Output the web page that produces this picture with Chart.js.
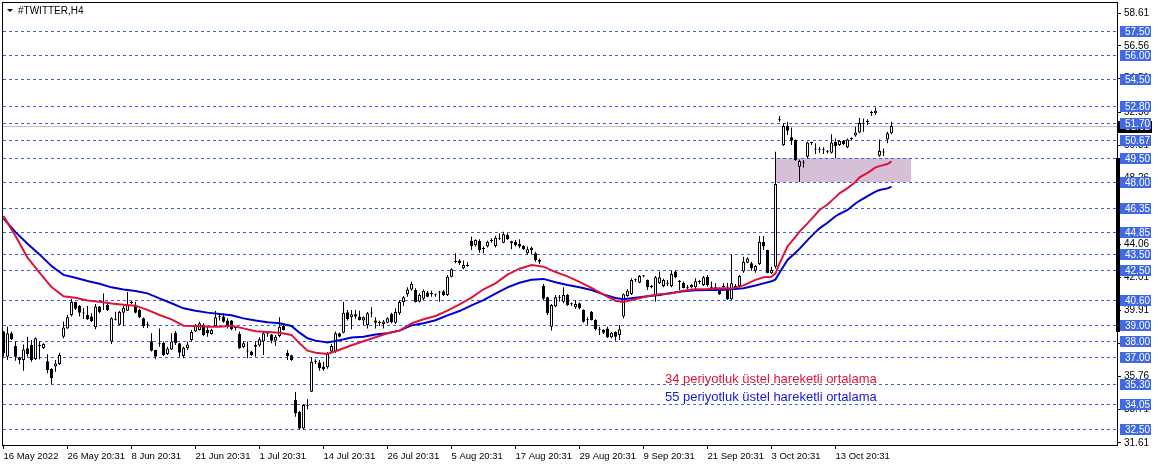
<!DOCTYPE html>
<html>
<head>
<meta charset="utf-8">
<script src="https://cdn.jsdelivr.net/npm/chart.js@4.4.0/dist/chart.umd.min.js"></script>
<style>
  html, body { margin: 0; padding: 0; background: #fff; overflow: hidden; }
  canvas { display: block; }
</style>
</head>
<body>
<canvas id="mt4" width="1158" height="466"></canvas>
<script>
// ---- #TWITTER H4 bars (one entry per bar) ----
const barOpen = [
  38.60,37.02,38.49,37.69,36.98,36.81,37.55,37.76,36.86,37.69,
  37.55,36.73,36.27,36.40,36.56,38.28,38.80,39.64,40.46,40.21,
  39.79,39.64,39.54,38.87,40.17,40.40,40.27,37.97,39.35,39.03,
  39.79,39.91,40.40,40.21,39.96,39.43,39.03,37.99,37.44,37.88,
  37.90,37.19,37.48,38.53,37.86,37.07,37.55,38.07,38.60,38.70,
  39.01,38.70,38.45,38.95,39.50,39.54,39.29,39.29,38.87,38.45,
  37.61,37.36,37.34,37.65,37.72,37.97,38.49,38.41,38.03,38.32,
  38.95,37.27,37.11,34.30,33.55,32.50,33.90,34.82,36.71,36.65,
  36.40,36.35,37.34,37.34,38.49,38.53,39.81,39.50,39.69,39.54,
  39.29,39.01,39.73,39.29,39.18,39.08,39.16,39.71,39.16,39.75,
  40.46,40.96,41.25,41.21,40.48,40.67,41.05,40.96,40.92,41.05,
  41.13,40.90,42.05,42.98,43.06,42.58,42.72,44.31,44.02,44.31,
  43.79,43.94,44.29,43.98,44.44,44.19,44.69,44.15,44.23,44.10,
  43.98,43.52,43.73,43.52,43.10,41.46,40.75,38.91,40.17,40.73,
  40.48,40.90,40.33,40.13,40.38,39.96,39.31,39.85,39.33,38.72,
  38.70,38.80,38.24,38.57,38.39,39.54,40.84,40.96,41.82,41.67,
  42.07,41.84,41.40,40.84,41.63,41.46,41.61,41.46,42.37,41.76,
  41.67,41.40,41.38,41.38,41.72,41.53,42.05,41.40,41.34,41.26,
  41.40,41.38,40.63,41.44,41.46,42.37,42.93,42.89,42.43,42.85,
  44.23,43.73,42.26,42.68,51.92,50.32,51.52,50.81,50.64,48.96,
  49.25,49.59,50.45,50.07,50.03,50.03,49.92,49.84,50.53,50.32,
  50.60,50.18,50.70,50.93,51.12,51.69,51.77,52.34,52.32,49.65,
  49.86,50.68,51.06
];
const barHigh = [
  38.62,38.91,38.60,37.97,37.02,37.78,38.28,38.07,38.22,37.97,
  37.86,37.17,36.29,36.81,37.27,39.24,39.64,40.67,40.48,40.27,
  40.06,40.21,39.75,40.33,40.21,41.00,40.48,39.50,39.85,39.91,
  40.21,41.09,40.52,40.48,40.04,39.48,39.22,38.49,37.46,38.80,
  37.97,37.65,38.49,38.64,37.90,37.65,37.97,38.70,39.08,39.22,
  39.12,38.91,38.78,39.89,39.64,39.75,39.43,39.33,38.95,38.60,
  37.97,37.97,37.40,37.97,38.24,38.60,38.60,38.45,38.39,39.50,
  39.01,37.44,37.15,34.80,33.63,34.05,34.34,36.98,36.86,36.81,
  36.71,37.32,37.82,38.60,38.53,40.46,39.96,39.96,39.96,39.91,
  39.54,39.83,40.13,39.50,39.29,39.33,39.50,39.79,40.06,40.58,
  40.84,41.38,41.74,41.32,41.00,41.25,41.17,41.17,41.00,41.17,
  41.21,42.16,42.58,43.52,43.14,43.06,42.98,44.57,44.40,44.40,
  43.94,44.31,44.46,44.61,44.78,44.88,44.78,44.31,44.36,44.40,
  44.04,43.94,43.94,43.62,43.20,41.59,40.79,40.33,40.90,40.90,
  41.38,40.96,40.42,40.58,40.42,40.00,39.50,39.89,39.37,38.91,
  38.74,38.91,38.57,38.60,39.01,41.00,41.26,41.95,41.93,42.16,
  42.16,41.88,41.53,42.09,42.37,41.93,41.84,42.43,42.43,41.84,
  41.74,41.53,41.59,41.95,41.84,42.09,42.16,41.74,41.63,41.38,
  41.63,41.67,43.41,41.59,42.16,43.31,43.27,42.99,42.79,44.61,
  44.61,43.75,42.68,49.90,52.15,51.69,51.79,51.43,50.68,49.42,
  49.38,50.53,50.53,50.43,50.22,50.18,50.01,51.01,50.74,50.64,
  50.64,50.74,50.81,51.48,52.02,52.00,51.94,52.48,52.69,50.68,
  50.11,51.16,51.79
];
const barLow = [
  37.02,36.81,38.07,36.77,36.54,36.14,37.02,36.71,36.81,36.86,
  37.51,35.98,35.31,36.08,36.50,38.16,38.78,39.54,39.96,39.54,
  39.39,39.33,39.20,38.74,39.75,39.96,39.89,37.82,39.29,38.99,
  38.95,39.89,40.33,39.75,39.43,38.83,38.83,37.34,36.86,37.65,
  37.07,37.13,37.44,37.76,37.02,36.92,37.44,37.99,38.57,38.66,
  38.34,38.28,38.41,38.91,39.29,39.16,38.80,38.70,38.66,37.51,
  37.55,36.92,37.07,37.02,37.65,37.13,38.28,37.86,37.69,38.24,
  38.66,36.81,36.77,33.25,32.45,32.45,33.71,34.80,36.56,36.14,
  36.14,36.27,37.27,37.27,38.24,38.49,39.29,38.74,39.41,39.29,
  39.01,38.80,39.50,38.80,38.95,38.80,39.12,39.12,39.08,39.64,
  40.21,40.79,41.17,40.42,40.42,40.58,40.75,40.79,40.79,40.48,
  40.84,40.84,42.01,42.89,42.79,42.51,42.68,43.73,43.94,43.56,
  43.52,43.89,44.19,43.89,44.36,44.15,44.36,43.77,43.94,43.83,
  43.73,43.41,43.48,42.99,42.85,40.58,39.64,38.66,40.13,40.48,
  40.38,40.21,40.21,40.04,40.00,39.16,39.01,39.29,38.66,38.39,
  38.45,38.20,38.18,38.03,38.07,39.43,40.79,40.90,41.72,41.63,
  42.01,41.21,41.32,40.48,41.59,41.38,41.46,41.38,41.95,41.21,
  41.32,41.26,41.30,41.26,41.59,41.46,41.42,41.32,41.21,40.90,
  41.21,40.58,40.58,41.30,41.38,42.30,42.89,42.43,42.30,42.79,
  43.73,42.26,42.22,42.57,51.79,50.26,50.95,50.32,49.34,48.02,
  48.92,49.49,50.32,49.76,49.84,49.76,49.80,49.80,49.49,50.26,
  50.32,50.13,50.64,50.85,51.06,51.16,51.58,52.15,52.23,49.59,
  49.63,50.43,51.01
];
const barClose = [
  37.23,38.49,38.11,37.02,36.81,37.48,37.19,36.81,38.18,37.72,
  37.82,36.19,35.66,36.60,37.13,38.85,39.50,40.48,40.04,39.79,
  39.73,39.37,39.27,40.17,39.83,40.44,39.96,39.43,39.39,39.83,
  40.10,40.27,40.44,39.79,39.50,38.95,38.99,37.40,37.02,37.84,
  37.13,37.53,37.97,37.86,37.27,37.59,37.78,38.57,38.95,39.12,
  38.39,38.49,38.70,39.50,39.54,39.22,38.91,38.74,38.83,37.55,
  37.86,37.34,37.13,37.76,38.11,38.49,38.47,38.03,38.28,38.91,
  38.70,37.07,36.81,33.46,32.50,33.99,33.96,36.71,36.75,36.29,
  36.23,37.23,37.69,38.49,38.28,39.79,39.39,39.69,39.54,39.33,
  39.50,39.75,39.77,39.16,39.14,39.24,39.43,39.20,39.83,40.46,
  40.75,41.25,41.59,40.46,40.90,41.17,40.79,40.98,40.94,41.07,
  40.90,42.05,42.51,43.01,42.89,42.79,42.74,43.98,44.36,43.73,
  43.83,44.25,44.33,44.50,44.48,44.71,44.40,44.27,44.02,43.94,
  43.77,43.77,43.87,43.10,42.99,40.67,39.75,40.27,40.75,40.77,
  40.90,40.27,40.31,40.33,40.06,39.22,39.35,39.33,38.74,38.68,
  38.53,38.24,38.53,38.28,38.74,40.94,41.17,41.84,41.86,42.09,
  42.09,41.38,41.44,42.01,42.01,41.84,41.65,42.22,42.01,41.72,
  41.34,41.36,41.53,41.76,41.74,42.01,41.53,41.36,41.32,40.96,
  41.44,40.63,41.63,41.40,42.09,42.99,43.20,42.58,42.72,44.25,
  43.94,42.28,42.47,47.87,51.96,51.52,51.22,50.60,49.38,49.32,
  49.21,50.49,50.47,50.05,50.05,49.99,49.90,50.49,50.26,50.60,
  50.39,50.68,50.72,51.12,51.71,51.67,51.79,52.36,52.48,49.95,
  49.88,51.06,51.52
];

// ---- moving averages, read at these bar numbers ----
const maBars = [
  0,3,6,9,12,15,18,21,24,27, 30,33,36,39,42,45,48,51,54,57,
  60,63,66,69,72,74,76,78,81,84, 87,90,93,96,99,102,105,108,111,114,
  117,120,123,126,129,132,135,138,141,144, 147,150,153,155,158,161,164,167,170,173,
  176,179,182,185,188,190,192,193,194,196, 198,199,201,203,204,206,208,209,211,213,
  214,216,218,219,221,222
];
const ema34 = [
  45.86,44.60,43.25,42.30,41.40,40.82,40.72,40.55,40.47,40.36,
  40.29,40.23,39.96,39.64,39.37,38.97,38.95,38.91,38.91,38.97,
  38.80,38.62,38.57,38.53,38.39,37.86,37.40,37.27,37.19,37.46,
  37.74,37.99,38.24,38.49,38.66,39.12,39.37,39.58,39.91,40.31,
  40.73,41.26,41.63,42.18,42.55,42.78,42.68,42.34,42.07,41.72,
  41.34,40.92,40.54,40.46,40.65,40.82,40.94,41.00,41.17,41.26,
  41.28,41.32,41.30,41.50,41.85,42.01,42.05,42.26,42.89,43.95,
  44.55,44.88,45.40,45.95,46.24,46.59,47.05,47.29,47.62,48.00,
  48.29,48.58,48.92,49.00,49.13,49.30
];
const ema55 = [
  45.72,44.85,44.12,43.45,42.72,42.16,41.98,41.78,41.60,41.38,
  41.24,41.15,41.00,40.69,40.38,40.06,39.91,39.79,39.71,39.62,
  39.43,39.29,39.18,39.12,38.95,38.53,38.18,38.03,37.92,38.05,
  38.22,38.28,38.41,38.49,38.66,38.99,39.12,39.31,39.62,39.89,
  40.25,40.58,40.98,41.38,41.67,41.86,41.91,41.70,41.53,41.38,
  41.21,40.94,40.71,40.63,40.73,40.82,40.90,41.03,41.13,41.19,
  41.21,41.21,41.26,41.32,41.49,41.63,41.76,41.88,42.30,43.10,
  43.55,43.80,44.35,44.85,45.09,45.44,45.85,45.99,46.24,46.65,
  46.82,47.12,47.40,47.50,47.60,47.71
];

// ---- axes ----
const xTickBars = [0,16,32,48,64,80,96,112,128,144,160,176,192,208];
const xTickLabels = [
  "16 May 2022","26 May 20:31","8 Jun 20:31","21 Jun 20:31","1 Jul 20:31",
  "14 Jul 20:31","26 Jul 20:31","5 Aug 20:31","17 Aug 20:31","29 Aug 20:31",
  "9 Sep 20:31","21 Sep 20:31","3 Oct 20:31","13 Oct 20:31"
];
const yTickValues = [58.61,56.56,54.51,52.36,50.31,48.26,46.21,44.06,42.01,39.91,37.86,35.76,33.71,31.61];

// ---- objects on the chart ----
const levelPrices = [57.50,56.00,54.50,52.80,51.70,50.67,49.50,48.00,46.35,44.85,43.50,42.50,40.60,39.00,38.00,37.00,35.30,34.05,32.50];
const zoneBars = [193.1, 226.8];
const zonePrices = [48.00, 49.50];
const bidPrice = 51.52;
const axisMark = [49.50, 38.60];
const chartTitle = "#TWITTER,H4";
const maLabels = ["34 periyotluk üstel hareketli ortalama", "55 periyotluk üstel hareketli ortalama"];

const FONT = '"Liberation Sans", Arial, sans-serif';

const mtOverlay = {
  id: 'mtOverlay',
  beforeDatasetsDraw(chart) {
    const { ctx, chartArea: a, scales: { x, y } } = chart;
    ctx.save();
    // rectangle zone
    const zx1 = x.getPixelForValue(zoneBars[0]);
    const zx2 = x.getPixelForValue(zoneBars[1]);
    const zy1 = Math.round(y.getPixelForValue(zonePrices[1]));
    const zy2 = Math.round(y.getPixelForValue(zonePrices[0]));
    ctx.fillStyle = '#D8BFD8';
    ctx.fillRect(Math.round(zx1), zy1, Math.round(zx2 - zx1), zy2 - zy1);

    // bid line
    ctx.strokeStyle = '#C0C0C0';
    ctx.lineWidth = 1;
    const by = Math.round(y.getPixelForValue(bidPrice)) + 0.5;
    ctx.beginPath();
    ctx.moveTo(a.left, by);
    ctx.lineTo(a.right, by);
    ctx.stroke();

    // dashed horizontal levels
    ctx.strokeStyle = '#3D5FE0';
    ctx.setLineDash([3, 3]);
    levelPrices.forEach(p => {
      const py = Math.round(y.getPixelForValue(p)) + 0.5;
      ctx.beginPath();
      ctx.moveTo(a.left + 1, py);
      ctx.lineTo(a.right, py);
      ctx.stroke();
    });
    ctx.restore();
  },
  afterDraw(chart) {
    const { ctx, chartArea: a, scales: { y } } = chart;
    ctx.save();
    // frame (left + top)
    ctx.fillStyle = '#000';
    ctx.fillRect(a.left, a.top, 1, a.bottom - a.top);
    ctx.fillRect(a.left, a.top, a.right - a.left, 1);

    // thick mark on the price axis
    const m1 = Math.round(y.getPixelForValue(axisMark[0]));
    const m2 = Math.round(y.getPixelForValue(axisMark[1]));
    ctx.fillRect(a.right - 1, m1, 4, m2 - m1);

    ctx.font = '10px ' + FONT;
    ctx.textBaseline = 'middle';
    ctx.textAlign = 'left';

    // bid label
    const bpy = Math.round(y.getPixelForValue(bidPrice));
    ctx.fillStyle = '#000';
    ctx.fillRect(a.right + 1, bpy - 5, 34, 12);
    ctx.fillStyle = '#fff';
    ctx.fillText(bidPrice.toFixed(2), a.right + 8, bpy + 1);

    // level labels
    levelPrices.forEach(p => {
      const py = Math.round(y.getPixelForValue(p));
      ctx.fillStyle = '#4169E1';
      ctx.fillRect(a.right + 3, py - 5, 31, 11);
      ctx.fillStyle = '#fff';
      ctx.fillText(p.toFixed(2), a.right + 8, py + 1);
    });

    // title
    ctx.fillStyle = '#000';
    ctx.beginPath();
    ctx.moveTo(7, 9);
    ctx.lineTo(13, 9);
    ctx.lineTo(10, 12);
    ctx.closePath();
    ctx.fill();
    ctx.fillText(chartTitle, 18, 11);

    // MA captions
    ctx.font = '13px ' + FONT;
    ctx.fillStyle = '#DC143C';
    ctx.fillText(maLabels[0], 665, 379);
    ctx.fillStyle = '#1515E0';
    ctx.fillText(maLabels[1], 665, 397);
    ctx.restore();
  }
};

const wickData = barHigh.map((h, i) => ({ x: i, y: [barLow[i], h] }));
const bodyData = barOpen.map((o, i) => ({ x: i, y: [o, barClose[i]] }));
const ema34Data = maBars.map((b, i) => ({ x: b, y: ema34[i] }));
const ema55Data = maBars.map((b, i) => ({ x: b, y: ema55[i] }));

new Chart(document.getElementById('mt4'), {
  type: 'bar',
  data: {
    datasets: [
      {
        type: 'line',
        data: ema34Data,
        borderColor: '#DC143C',
        borderWidth: 2,
        pointRadius: 0,
        tension: 0,
        fill: false,
        order: 0
      },
      {
        type: 'line',
        data: ema55Data,
        borderColor: '#0000CD',
        borderWidth: 2,
        pointRadius: 0,
        tension: 0,
        fill: false,
        order: 1
      },
      {
        data: bodyData,
        barThickness: 3,
        grouped: false,
        inflateAmount: 0,
        minBarLength: 1,
        borderWidth: 1,
        borderSkipped: false,
        borderColor: '#000',
        backgroundColor: c => {
          const i = c.dataIndex;
          const d = barClose[i] - barOpen[i];
          if (Math.abs(d) < 0.08) return '#000';
          return d > 0 ? '#fff' : '#000';
        },
        order: 2
      },
      {
        data: wickData,
        barThickness: 1,
        grouped: false,
        inflateAmount: 0,
        borderWidth: 0,
        backgroundColor: '#000',
        order: 3
      }
    ]
  },
  options: {
    responsive: false,
    animation: false,
    devicePixelRatio: 1,
    events: [],
    layout: { padding: { left: 2, top: 2, right: 0, bottom: 0 } },
    plugins: { legend: { display: false }, tooltip: { enabled: false } },
    scales: {
      x: {
        type: 'linear',
        min: -0.375,
        max: 278.375,
        offset: false,
        afterBuildTicks: s => { s.ticks = xTickBars.map(v => ({ value: v })); },
        afterFit: s => { s.height = 21; s.paddingLeft = 0; s.paddingRight = 0; },
        grid: { offset: false, drawOnChartArea: false, drawTicks: true, tickLength: 4, color: '#000' },
        border: { display: true, color: '#000' },
        ticks: {
          autoSkip: false,
          maxRotation: 0,
          align: 'start',
          padding: 2,
          color: '#000',
          font: { family: FONT, size: 9.5 },
          callback: (v, i) => xTickLabels[i]
        }
      },
      y: {
        type: 'linear',
        position: 'right',
        min: 31.47,
        max: 59.315,
        afterBuildTicks: s => { s.ticks = yTickValues.map(v => ({ value: v })); },
        afterFit: s => { s.width = 41; s.paddingTop = 0; s.paddingBottom = 0; },
        grid: { drawOnChartArea: false, drawTicks: true, tickLength: 4, color: '#000' },
        border: { display: true, color: '#000' },
        ticks: {
          autoSkip: false,
          padding: 3,
          color: '#000',
          font: { family: FONT, size: 10 },
          callback: v => v.toFixed(2)
        }
      }
    }
  },
  plugins: [mtOverlay]
});
</script>
</body>
</html>
